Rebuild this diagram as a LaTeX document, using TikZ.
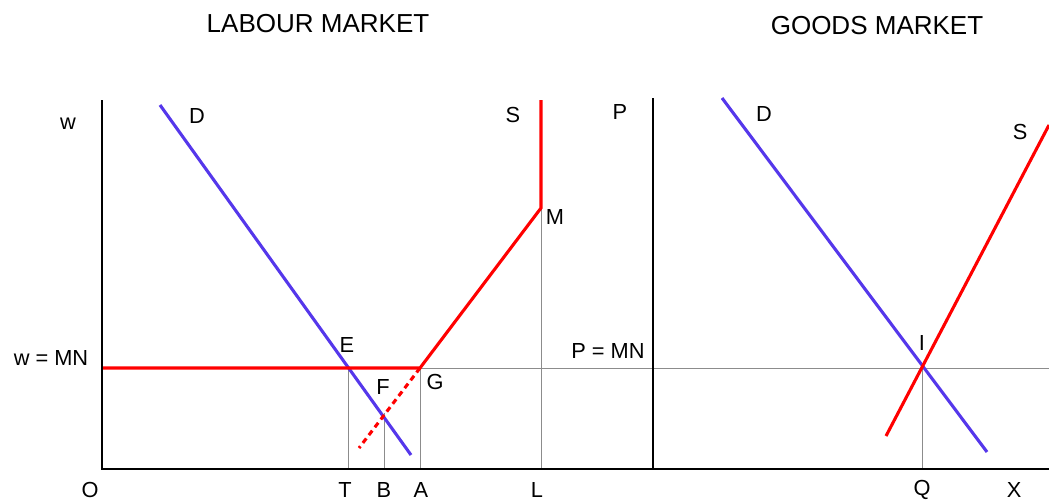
\documentclass[tikz,border=0pt]{standalone}
\usepackage{fontspec}
\setmainfont{Liberation Sans}
\definecolor{dblue}{RGB}{85,55,235}
\begin{document}
\begin{tikzpicture}[x=0.025cm, y=-0.025cm,
                ax/.style={line width=2pt, black},
                gr/.style={line width=0.7pt, black!45},
                dm/.style={line width=2.2pt, dblue},
                sp/.style={line width=2.2pt, red},
                lb/.style={font=\fontsize{15.5}{18}\selectfont},
                ttl/.style={font=\fontsize{18.5}{22}\selectfont}
            ]
            \useasboundingbox (0,0) rectangle (1049,501);
            % axes
            \coordinate (o)  at (102, 469);
            \coordinate (wt) at (102, 100);
            \coordinate (xe) at (1049,469);
            \coordinate (po) at (653, 469);
            \coordinate (pt) at (653, 98);
            % labour market points
            \coordinate (w0) at (102, 368);
            \coordinate (e)  at (348, 368);
            \coordinate (g)  at (420, 368);
            \coordinate (f)  at (384, 413);
            \coordinate (m)  at (541, 208);
            \coordinate (st) at (541, 100);
            \coordinate (d1) at (160, 105);
            \coordinate (d2) at (411, 455);
            \coordinate (dl) at (359, 448);
            \coordinate (t0) at (348, 469);
            \coordinate (b0) at (384, 469);
            \coordinate (a0) at (420, 469);
            \coordinate (l0) at (541, 469);
            % goods market points
            \coordinate (we) at (1049,368);
            \coordinate (i)  at (922, 368);
            \coordinate (q0) at (922, 469);
            \coordinate (gd1) at (722, 98);
            \coordinate (gd2) at (987, 452);
            \coordinate (gs1) at (886, 436);
            \coordinate (gs2) at (1049,125);
            % guide lines
            \draw[gr] (w0) -- (we);
            \draw[gr] (e) -- (t0);
            \draw[gr] (f) -- (b0);
            \draw[gr] (g) -- (a0);
            \draw[gr] (m) -- (l0);
            \draw[gr] (i) -- (q0);
            % curves
            \draw[dm] (d1) -- (d2);
            \draw[sp] (w0) -- (g) -- (m) -- (st);
            \draw[sp, dash pattern=on 4pt off 3pt] (g) -- (dl);
            \draw[dm] (gd1) -- (gd2);
            \draw[sp] (gs1) -- (gs2);
            \draw[ax] (wt) -- (o) -- (xe);
            \draw[ax] (pt) -- (po);
            % labels
            \node[ttl] (lab) at (318, 24) {LABOUR MARKET};
            \node[ttl] (gds) at (877, 26) {GOODS MARKET};
            \node[lb] (lw)  at (68, 124)  {w};
            \node[lb] (ld)  at (197, 116) {D};
            \node[lb] (ls)  at (513, 115) {S};
            \node[lb] (lp)  at (620, 112) {P};
            \node[lb] (lm)  at (555, 217) {M};
            \node[lb] (le)  at (347, 345) {E};
            \node[lb] (lf)  at (383, 387) {F};
            \node[lb] (lg)  at (435, 382) {G};
            \node[lb] (lwm) at (51, 358)  {w = MN};
            \node[lb] (lpm) at (608, 351) {P = MN};
            \node[lb] (li)  at (922, 343) {I};
            \node[lb] (ld2) at (764, 114) {D};
            \node[lb] (ls2) at (1020, 132) {S};
            \node[lb] (lo)  at (90, 490)  {O};
            \node[lb] (lt)  at (345, 490) {T};
            \node[lb] (lb0) at (384, 490) {B};
            \node[lb] (la)  at (421, 490) {A};
            \node[lb] (ll)  at (537, 490) {L};
            \node[lb] (lq)  at (922, 490) {Q};
            \node[lb] (lx)  at (1014, 490) {X};
            \end{tikzpicture}
\end{document}
